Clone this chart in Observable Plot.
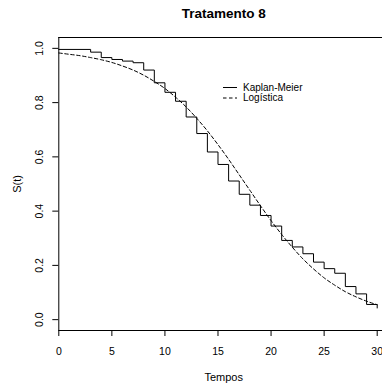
<!DOCTYPE html>
<html><head><meta charset="utf-8">
<script src="https://cdn.jsdelivr.net/npm/d3@7"></script>
<script src="https://cdn.jsdelivr.net/npm/@observablehq/plot@0.6"></script>
<style>
body{margin:0;background:#fff}
#wrap{position:relative;width:382px;height:385px;overflow:hidden;font-family:"Liberation Sans",Arial,Helvetica,sans-serif}
#legend{position:absolute;left:0;top:0;pointer-events:none}
</style>
</head><body>
<div id="wrap"></div>
<script>
const title = "Tratamento 8";
const xLabel = "Tempos";
const yLabel = "S(t)";
const xTicks = [0, 5, 10, 15, 20, 25, 30];
const yTicks = [0, 0.2, 0.4, 0.6, 0.8, 1.0];
const seriesNames = ["Kaplan-Meier", "Logística"];

// Kaplan-Meier step estimate (time where each step starts, survival)
const kmTime = [0, 3, 4, 5, 6, 7, 8, 9, 10, 11, 12, 13, 14, 15, 16, 17, 18, 19, 20, 21, 22, 23, 24, 25, 26, 27, 28, 29, 30];
const kmSurv = [0.996, 0.986, 0.966, 0.959, 0.953, 0.947, 0.920, 0.873, 0.838, 0.805, 0.747, 0.686, 0.618, 0.572, 0.511, 0.462, 0.422, 0.384, 0.345, 0.292, 0.268, 0.243, 0.212, 0.188, 0.171, 0.122, 0.095, 0.056, 0.043];

// Logistic model curve
const logTime = [0, 1, 2, 3, 4, 5, 6, 7, 8, 9, 10, 11, 12, 13, 14, 15, 16, 17, 18, 19, 20, 21, 22, 23, 24, 25, 26, 27, 28, 29, 30];
const logSurv = [0.983, 0.978, 0.973, 0.966, 0.958, 0.948, 0.935, 0.920, 0.901, 0.878, 0.852, 0.820, 0.784, 0.742, 0.696, 0.645, 0.591, 0.534, 0.477, 0.420, 0.365, 0.314, 0.267, 0.224, 0.187, 0.154, 0.127, 0.103, 0.084, 0.068, 0.055];

const km = kmTime.map((t, i) => ({t, s: kmSurv[i]}));
const lg = logTime.map((t, i) => ({t, s: logSurv[i]}));

const xDom = [0, 30.5];
const yDom = [-0.04, 1.04];
const font = '"Liberation Sans", Arial, Helvetica, sans-serif';

const chart = Plot.plot({
  width: 382,
  height: 385,
  marginLeft: 58.3,
  marginRight: 0,
  marginTop: 37,
  marginBottom: 55,
  x: {domain: xDom},
  y: {domain: yDom},
  style: {fontFamily: font, background: "white", color: "black"},
  marks: [
    Plot.ruleY([yDom[1]], {stroke: "black", strokeWidth: 1}),
    Plot.ruleY([yDom[0]], {stroke: "black", strokeWidth: 1}),
    Plot.ruleX([xDom[0]], {stroke: "black", strokeWidth: 1}),
    Plot.axisX(xTicks, {tickSize: 6, tickPadding: 11, fontSize: 10.5, label: null, stroke: "black"}),
    Plot.axisY(yTicks, {tickSize: 6, tickFormat: () => "", label: null, stroke: "black"}),
    Plot.text(yTicks, {y: d => d, text: d => d.toFixed(1), frameAnchor: "left", dx: -19, rotate: -90, textAnchor: "middle", lineAnchor: "middle", fontSize: 10.5, fill: "black"}),
    Plot.line(km, {x: "t", y: "s", curve: "step-after", stroke: "black", strokeWidth: 1}),
    Plot.line(lg, {x: "t", y: "s", curve: "monotone-x", stroke: "black", strokeWidth: 1, strokeDasharray: "3.5,2.5"}),
    Plot.text([title], {text: d => d, frameAnchor: "top", dx: 3, dy: -24, lineAnchor: "middle", fontWeight: "bold", fontSize: 13.5, fill: "black"}),
    Plot.text([xLabel], {text: d => d, frameAnchor: "bottom", dx: 3, dy: 47, lineAnchor: "middle", fontSize: 11, fill: "black"}),
    Plot.text([yLabel], {text: d => d, frameAnchor: "left", dx: -41, rotate: -90, textAnchor: "middle", lineAnchor: "middle", fontSize: 11, fill: "black"})
  ]
});
const wrap = document.getElementById("wrap");
wrap.appendChild(chart);

// legend overlay
const ns = "http://www.w3.org/2000/svg";
const lg2 = document.createElementNS(ns, "svg");
lg2.setAttribute("id", "legend");
lg2.setAttribute("width", 382);
lg2.setAttribute("height", 385);
const rows = [{y: 87.5, dash: null}, {y: 98, dash: "3.5,2.5"}];
seriesNames.forEach((name, i) => {
  const r = rows[i];
  const l = document.createElementNS(ns, "line");
  l.setAttribute("x1", 223); l.setAttribute("x2", 237);
  l.setAttribute("y1", r.y); l.setAttribute("y2", r.y);
  l.setAttribute("stroke", "black"); l.setAttribute("stroke-width", 1);
  if (r.dash) l.setAttribute("stroke-dasharray", r.dash);
  lg2.appendChild(l);
  const t = document.createElementNS(ns, "text");
  t.setAttribute("x", 243); t.setAttribute("y", r.y + 3.3);
  t.setAttribute("font-size", 10); t.setAttribute("font-family", font);
  t.textContent = name;
  lg2.appendChild(t);
});
wrap.appendChild(lg2);
</script>
</body></html>
